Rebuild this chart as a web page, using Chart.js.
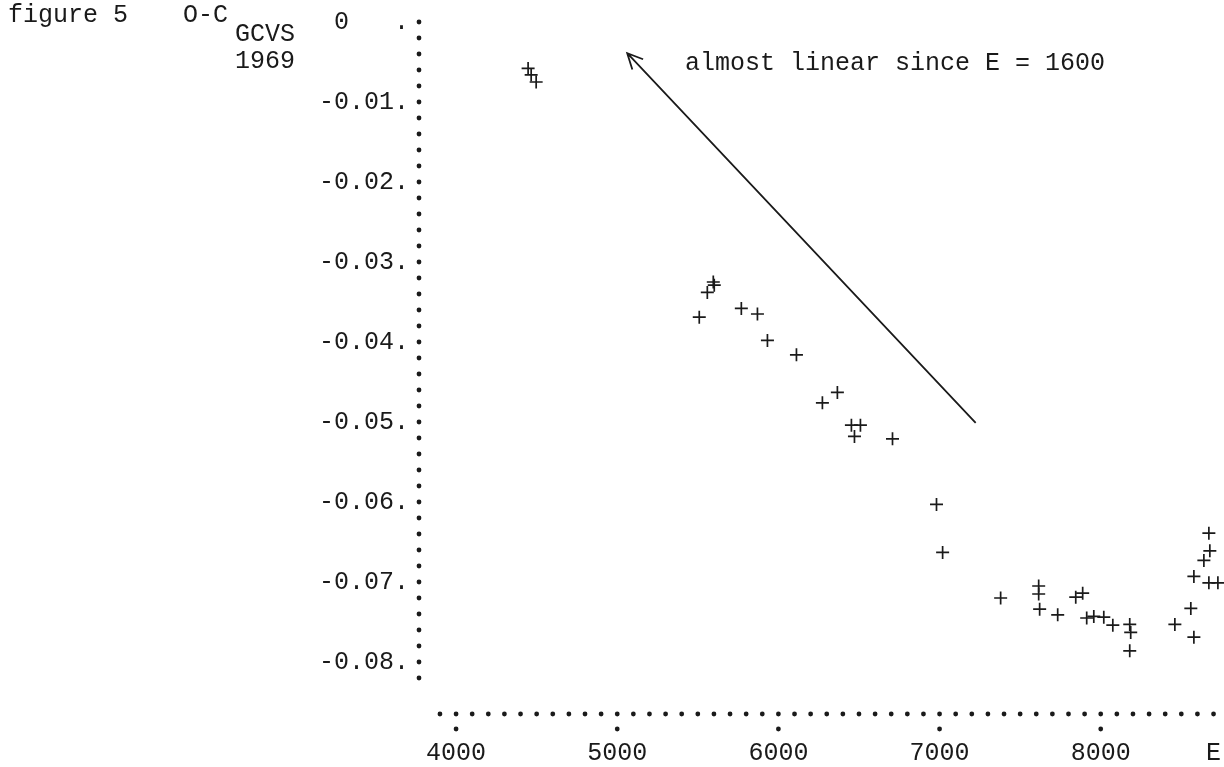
<!DOCTYPE html>
<html>
<head>
<meta charset="utf-8">
<script src="https://cdn.jsdelivr.net/npm/chart.js@4"></script>
<style>
  body { margin: 0; background: #fff; }
  #wrap { width: 1224px; height: 767px; position: relative; }
</style>
</head>
<body>
<div id="wrap"><canvas id="myChart"></canvas></div>
<script>
// Epochs (E)
let epochs = [4447, 4466, 4497,
              5509, 5559, 5596, 5602, 5770, 5870, 5932, 6112, 6273, 6366, 6453, 6509, 6472, 6708,
              6981, 7019, 7379, 7615, 7615, 7621, 7733, 7845, 7888, 7913, 7957, 8019, 8075,
              8180, 8186, 8180, 8460, 8559, 8578, 8578, 8640, 8677, 8671, 8671, 8727];

// O-C (GCVS 1969), days
let oc = [-0.0058, -0.0066, -0.0075,
          -0.0369, -0.0338, -0.0325, -0.0329, -0.0358, -0.0365, -0.0398, -0.0416, -0.0476, -0.0463, -0.0504, -0.0504, -0.0518, -0.0521,
          -0.0603, -0.0663, -0.0720, -0.0705, -0.0715, -0.0734, -0.0741, -0.0719, -0.0714, -0.0745, -0.0743, -0.0744, -0.0754,
          -0.0753, -0.0763, -0.0786, -0.0753, -0.0733, -0.0769, -0.0693, -0.0673, -0.0661, -0.0639, -0.0701, -0.0701];

// Tick labels
let xTicks = [4000, 5000, 6000, 7000, 8000, 8700];
let xLabels = ['4000', '5000', '6000', '7000', '8000', 'E'];
let yTicks = [0, -0.01, -0.02, -0.03, -0.04, -0.05, -0.06, -0.07, -0.08];
let yLabels = ['  0   .', '-0.01.', '-0.02.', '-0.03.', '-0.04.', '-0.05.', '-0.06.', '-0.07.', '-0.08.'];

// Arrow annotation (E, O-C): tail, head
let arrowTail = [7224, -0.0501];
let arrowHead = [5062, -0.0039];

const FONT = '"Liberation Mono", "DejaVu Sans Mono", monospace';
const INK = '#1a1a1a';

const plotterAxes = {
    id: 'plotterAxes',
    afterDraw(chart) {
        const ctx = chart.ctx;
        const xs = chart.scales.x, ys = chart.scales.y;
        const area = chart.chartArea;
        ctx.save();
        ctx.fillStyle = INK;
        const dot = (x, y) => { ctx.beginPath(); ctx.arc(x, y, 2.4, 0, Math.PI * 2); ctx.fill(); };

        // dotted y axis
        for (let v = 0; v >= -0.0825; v -= 0.002) dot(area.left, ys.getPixelForValue(v));
        // dotted x axis
        for (let e = 3900; e <= 8700; e += 100) dot(xs.getPixelForValue(e), area.bottom);
        // x tick dots
        for (let e = 4000; e <= 8000; e += 1000) dot(xs.getPixelForValue(e), area.bottom + 15);

        // header texts
        ctx.font = '25px ' + FONT;
        ctx.textBaseline = 'middle';
        ctx.textAlign = 'left';
        ctx.fillText('figure 5', 8, 15);
        ctx.fillText('O-C', 183, 15);
        ctx.fillText('GCVS', 235, 34);
        ctx.fillText('1969', 235, 61);
        ctx.fillText('almost linear since E = 1600', 685, 63);

        // arrow
        const x1 = xs.getPixelForValue(arrowTail[0]), y1 = ys.getPixelForValue(arrowTail[1]);
        const x2 = xs.getPixelForValue(arrowHead[0]), y2 = ys.getPixelForValue(arrowHead[1]);
        ctx.strokeStyle = INK;
        ctx.lineWidth = 1.8;
        ctx.beginPath();
        ctx.moveTo(x1, y1);
        ctx.lineTo(x2, y2);
        const ang = Math.atan2(y1 - y2, x1 - x2);
        const len = 17, spread = 0.45;
        ctx.moveTo(x2 + len * Math.cos(ang - spread), y2 + len * Math.sin(ang - spread));
        ctx.lineTo(x2, y2);
        ctx.lineTo(x2 + len * Math.cos(ang + spread), y2 + len * Math.sin(ang + spread));
        ctx.stroke();
        ctx.restore();
    }
};

let ctx = document.getElementById('myChart').getContext('2d');
let myChart = new Chart(ctx, {
    type: 'scatter',
    data: {
        datasets: [
            {
                data: epochs.map((e, i) => ({ x: e, y: oc[i] })),
                pointStyle: 'cross',
                pointRadius: 6.5,
                pointHoverRadius: 6.5,
                borderColor: INK,
                borderWidth: 1.7,
                clip: false
            }
        ]
    },
    options: {
        responsive: true,
        maintainAspectRatio: false,
        animation: false,
        events: [],
        layout: { padding: { top: 22, right: 2, left: 0, bottom: 0 } },
        plugins: { legend: { display: false }, tooltip: { enabled: false } },
        scales: {
            x: {
                type: 'linear',
                min: 3770,
                max: 8714,
                grid: { display: false, drawTicks: false },
                border: { display: false },
                afterBuildTicks: s => { s.ticks = xTicks.map(v => ({ value: v })); },
                afterFit: s => { s.height = 53; s.paddingLeft = 0; s.paddingRight = 0; },
                ticks: {
                    maxRotation: 0,
                    autoSkip: false,
                    padding: 24,
                    color: INK,
                    font: { family: FONT, size: 25 },
                    callback: v => xLabels[xTicks.indexOf(v)]
                }
            },
            y: {
                type: 'linear',
                min: -0.0865,
                max: 0,
                grid: { display: false, drawTicks: false },
                border: { display: false },
                afterBuildTicks: s => { s.ticks = yTicks.map(v => ({ value: v })); },
                afterFit: s => { s.width = 419; s.paddingTop = 0; s.paddingBottom = 0; },
                ticks: {
                    padding: 10,
                    autoSkip: false,
                    color: INK,
                    font: { family: FONT, size: 25 },
                    callback: v => yLabels[yTicks.findIndex(t => Math.abs(t - v) < 1e-9)]
                }
            }
        }
    },
    plugins: [plotterAxes]
});
</script>
</body>
</html>
